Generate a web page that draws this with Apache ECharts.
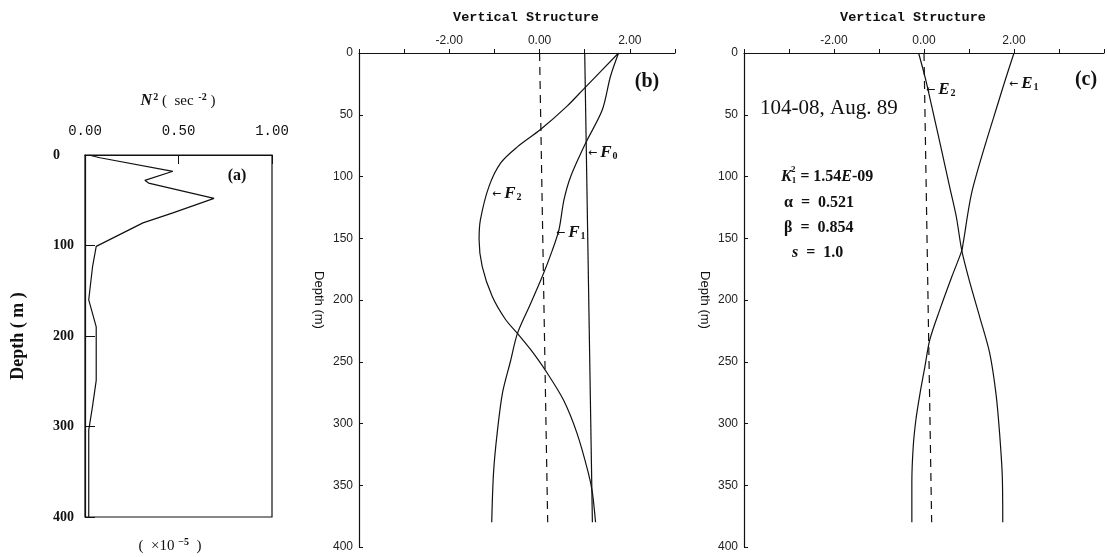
<!DOCTYPE html>
<html>
<head>
<meta charset="utf-8">
<title>Vertical structure</title>
<script src="https://cdn.jsdelivr.net/npm/echarts@6/dist/echarts.min.js"></script>
<style>
html, body { margin: 0; padding: 0; background: #fff; }
#chart { width: 1107px; height: 557px; }
</style>
</head>
<body>
<div id="chart"></div>
<script>
// panel (a): N^2 profile, pairs of [N^2 (x10^-5 sec^-2), depth m]
const n2Profile = [[0.02, 0], [0.08, 3], [0.47, 18], [0.32, 28], [0.34, 31], [0.69, 48], [0.47, 64],
    [0.31, 75], [0.06, 101], [0.04, 124], [0.02, 160], [0.06, 190], [0.06, 201], [0.06, 249],
    [0.04, 278], [0.02, 304], [0.02, 350], [0.02, 400]];
const n2Ticks = [0, 0.5, 1];

// panel (b): vertical structure F0, F1, F2 -> [value, depth]
const f0 = [[1.0, 0], [1.17, 380]];
const f1 = [[1.75, 0], [1.57, 19], [1.39, 46], [1.02, 73], [0.69, 100], [0.54, 119], [0.43, 143],
    [0.28, 160], [0.06, 181], [-0.2, 203], [-0.49, 227], [-0.64, 249], [-0.82, 275], [-0.94, 308],
    [-1.02, 340], [-1.06, 380]];
const f2 = [[1.75, 0], [0.98, 29], [0.61, 43], [0.02, 62], [-0.49, 76], [-0.86, 89], [-1.12, 108],
    [-1.31, 135], [-1.34, 151], [-1.27, 173], [-1.05, 197], [-0.75, 216], [-0.49, 227], [-0.2, 240],
    [0.13, 257], [0.53, 281], [0.83, 308], [1.08, 340], [1.17, 356], [1.24, 380]];
const zeroB = [[0, 0], [0.18, 380]];

// panel (c): E1, E2
const e1 = [[2.0, 0], [1.71, 33], [1.08, 110], [0.87, 154], [0.84, 160], [0.62, 181], [0.35, 208],
    [0.13, 232], [0.02, 254], [-0.09, 276], [-0.18, 297], [-0.24, 319], [-0.27, 348], [-0.27, 380]];
const e2 = [[-0.12, 0], [0.06, 25], [0.58, 110], [0.72, 133], [0.84, 160], [1.02, 186], [1.24, 214],
    [1.46, 243], [1.6, 276], [1.68, 308], [1.74, 343], [1.75, 380]];
const zeroC = [[0, 0], [0.17, 380]];

const vsLabels = [-2, 0, 2];
const INK = '#111';

const chart = echarts.init(document.getElementById('chart'));

function curve(data, idx, opts) {
    opts = opts || {};
    return {
        type: 'line',
        data: data,
        xAxisIndex: idx,
        yAxisIndex: idx,
        showSymbol: false,
        silent: true,
        smooth: opts.smooth || false,
        lineStyle: { color: INK, width: 1.2, type: opts.dashed ? [8, 6] : 'solid' }
    };
}

function vsAxis(idx, max) {
    return {
        type: 'value',
        gridIndex: idx,
        position: 'top',
        min: -4,
        max: max,
        interval: 1,
        splitLine: { show: false },
        axisLine: { onZero: false, lineStyle: { color: INK, width: 1.2 } },
        axisTick: { length: 4, lineStyle: { color: INK } },
        axisLabel: {
            margin: 6,
            color: '#222',
            fontFamily: 'Liberation Sans',
            fontSize: 12,
            formatter: v => vsLabels.indexOf(v) >= 0 ? (v < 0 ? '-' : '') + Math.abs(v).toFixed(2) : ''
        }
    };
}

function depthAxis(idx, gap) {
    return {
        type: 'value',
        gridIndex: idx,
        inverse: true,
        min: 0,
        max: 400,
        interval: 50,
        name: 'Depth (m)',
        nameLocation: 'middle',
        nameRotate: -90,
        nameGap: gap,
        nameTextStyle: { color: INK, fontFamily: 'Liberation Sans', fontSize: 13 },
        splitLine: { show: false },
        axisLine: { onZero: false, lineStyle: { color: INK, width: 1.2 } },
        axisTick: { inside: true, length: 4, lineStyle: { color: INK } },
        axisLabel: { margin: 6, color: '#222', fontFamily: 'Liberation Sans', fontSize: 12 }
    };
}

function txt(x, y, text, style) {
    return {
        type: 'text',
        x: x,
        y: y,
        silent: true,
        style: Object.assign({ text: text, fill: INK, align: 'left', verticalAlign: 'middle' }, style)
    };
}

const serifBold = { fontFamily: 'Liberation Serif', fontWeight: 'bold' };
const modeRich = {
    a: { fontFamily: 'DejaVu Sans', fontSize: 11, fill: INK, padding: [0, 3, 0, 0] },
    f: { fontFamily: 'Liberation Serif', fontStyle: 'italic', fontWeight: 'bold', fontSize: 17, fill: INK },
    s: { fontFamily: 'Liberation Serif', fontWeight: 'bold', fontSize: 10, fill: INK, verticalAlign: 'bottom', padding: [7, 0, 0, 1] }
};
function modeLabel(x, y, letter, sub) {
    return txt(x, y, '{a|←}{f|' + letter + '}{s|' + sub + '}', { rich: modeRich });
}

chart.setOption({
    animation: false,
    backgroundColor: '#fff',
    grid: [
        { left: 85, top: 155, width: 187, height: 362, show: true, borderColor: INK, borderWidth: 1.2 },
        { left: 359, top: 53, width: 316, height: 494 },
        { left: 744, top: 53, width: 362, height: 494 }
    ],
    xAxis: [
        {
            type: 'value',
            gridIndex: 0,
            position: 'top',
            min: 0,
            max: 1,
            interval: 0.5,
            splitLine: { show: false },
            axisLine: { lineStyle: { color: INK, width: 1.2 } },
            axisTick: { inside: true, length: 9, lineStyle: { color: INK } },
            axisLabel: {
                margin: 17,
                color: INK,
                fontFamily: 'Liberation Mono',
                fontSize: 14,
                formatter: v => n2Ticks.indexOf(v) >= 0 ? v.toFixed(2) : ''
            }
        },
        vsAxis(1, 3),
        vsAxis(2, 4)
    ],
    yAxis: [
        {
            type: 'value',
            gridIndex: 0,
            inverse: true,
            min: 0,
            max: 400,
            interval: 100,
            name: 'Depth ( m )',
            nameLocation: 'middle',
            nameGap: 58,
            nameTextStyle: { color: INK, fontFamily: 'Liberation Serif', fontWeight: 'bold', fontSize: 18 },
            splitLine: { show: false },
            axisLine: { onZero: false, lineStyle: { color: INK, width: 1.2 } },
            axisTick: { inside: true, length: 10, lineStyle: { color: INK } },
            axisLabel: { margin: 32, align: 'left', color: INK, fontFamily: 'Liberation Serif', fontWeight: 'bold', fontSize: 14 }
        },
        depthAxis(1, 34),
        depthAxis(2, 33)
    ],
    series: [
        curve(n2Profile, 0),
        curve(f0, 1),
        curve(f1, 1, { smooth: 0.3 }),
        curve(f2, 1, { smooth: 0.3 }),
        curve(zeroB, 1, { dashed: true }),
        curve(e1, 2, { smooth: 0.3 }),
        curve(e2, 2, { smooth: 0.3 }),
        curve(zeroC, 2, { dashed: true })
    ],
    graphic: [
        // panel (a)
        txt(178, 101, '{i|N}{p|2}{t| (  sec }{p|-2}{t| )}', {
            align: 'center',
            rich: {
                i: { fontFamily: 'Liberation Serif', fontStyle: 'italic', fontWeight: 'bold', fontSize: 16, fill: INK },
                t: { fontFamily: 'Liberation Serif', fontSize: 15, fill: INK },
                p: { fontFamily: 'Liberation Serif', fontWeight: 'bold', fontSize: 10, fill: INK, verticalAlign: 'top', padding: [0, 0, 8, 1] }
            }
        }),
        txt(170, 546, '{t|(  ×10 }{p|−5}{t|  )}', {
            align: 'center',
            rich: {
                t: { fontFamily: 'Liberation Serif', fontSize: 15, fill: INK },
                p: { fontFamily: 'Liberation Serif', fontWeight: 'bold', fontSize: 10, fill: INK, verticalAlign: 'top', padding: [0, 0, 8, 0] }
            }
        }),
        txt(237, 176, '(a)', Object.assign({ fontSize: 16, align: 'center' }, serifBold)),

        // panel (b)
        txt(526, 18, 'Vertical Structure', { fontFamily: 'Liberation Mono', fontWeight: 'bold', fontSize: 13.5, align: 'center' }),
        txt(647, 82, '(b)', Object.assign({ fontSize: 20, align: 'center' }, serifBold)),
        modeLabel(588, 153, 'F', '0'),
        modeLabel(492, 194, 'F', '2'),
        modeLabel(556, 233, 'F', '1'),

        // panel (c)
        txt(913, 18, 'Vertical Structure', { fontFamily: 'Liberation Mono', fontWeight: 'bold', fontSize: 13.5, align: 'center' }),
        txt(1086, 80, '(c)', Object.assign({ fontSize: 20, align: 'center' }, serifBold)),
        modeLabel(926, 90, 'E', '2'),
        modeLabel(1009, 84, 'E', '1'),
        txt(760, 108, '104-08, Aug. 89', { fontFamily: 'Liberation Serif', fontSize: 21 }),
        txt(781, 177, '{k|K}{s|1}{k| = }{v|1.54}{k|E}{v|-09}', {
            rich: {
                k: { fontFamily: 'Liberation Serif', fontStyle: 'italic', fontWeight: 'bold', fontSize: 16, fill: INK },
                v: { fontFamily: 'Liberation Serif', fontWeight: 'bold', fontSize: 16, fill: INK },
                s: { fontFamily: 'Liberation Serif', fontWeight: 'bold', fontSize: 9, fill: INK, verticalAlign: 'bottom', padding: [8, 0, 0, 0] }
            }
        }),
        txt(791, 170, '2', Object.assign({ fontSize: 9 }, serifBold)),
        txt(784, 203, 'α  =  0.521', Object.assign({ fontSize: 16 }, serifBold)),
        txt(784, 228, 'β  =  0.854', Object.assign({ fontSize: 16 }, serifBold)),
        txt(792, 253, '{k|s}{v|  =  1.0}', {
            rich: {
                k: { fontFamily: 'Liberation Serif', fontStyle: 'italic', fontWeight: 'bold', fontSize: 16, fill: INK },
                v: { fontFamily: 'Liberation Serif', fontWeight: 'bold', fontSize: 16, fill: INK }
            }
        })
    ]
});
</script>
</body>
</html>
